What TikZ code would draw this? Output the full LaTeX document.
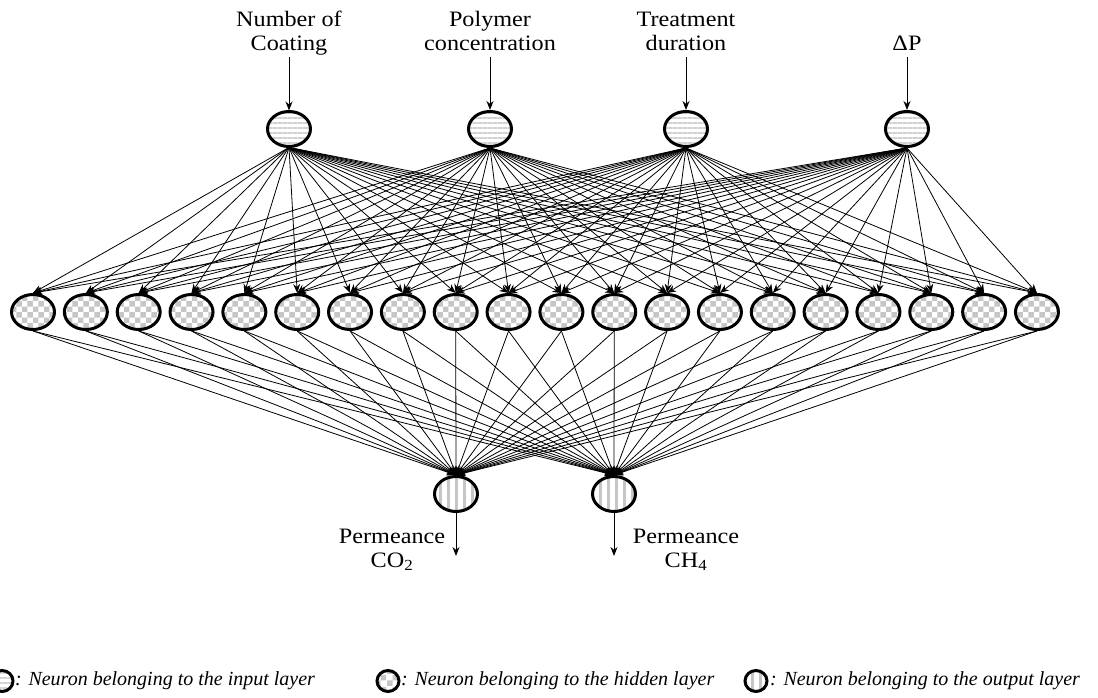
\documentclass[tikz,border=0pt]{standalone}
\usepackage{fontspec}
\setmainfont{Liberation Serif}
\newfontfamily\lblfont{Liberation Serif}[FakeStretch=1.1]
\usetikzlibrary{shapes.geometric,patterns,patterns.meta,arrows.meta}

\tikzset{
  neuron/.style={ellipse,draw,line width=3pt,minimum width=43pt,minimum height=35pt,inner sep=0pt},
  inneuron/.style={neuron,pattern={Lines[angle=0,distance=5pt,line width=2pt]},pattern color=gray!35},
  hidneuron/.style={neuron,pattern=checkerboard,pattern color=gray!45},
  outneuron/.style={neuron,pattern={Lines[angle=90,distance=8pt,line width=3pt]},pattern color=gray!45},
  keyneuron/.style={minimum width=22pt,minimum height=21pt},
  lbl/.style={align=center,inner sep=0pt,text depth=6pt,font=\lblfont\fontsize{22}{24}\selectfont},
  keytext/.style={anchor=west,inner sep=0pt,font=\itshape\fontsize{20}{24}\selectfont},
  link/.style={line width=0.8pt,-{Stealth[length=9pt,width=7pt]}},
  feed/.style={line width=1pt,-{Stealth[length=9pt,width=7pt]}}
}

\begin{document}
\begin{tikzpicture}[x=1pt,y=-1pt]
\useasboundingbox (0,0) rectangle (1098,698);
\node[inneuron] (I1) at (289,129) {};
\node[inneuron] (I2) at (490,129) {};
\node[inneuron] (I3) at (686,129) {};
\node[inneuron] (I4) at (907,129) {};
\node[lbl,anchor=south] (L1) at (289,57) {Number of\\Coating};
\node[lbl,anchor=south] (L2) at (490,57) {Polymer\\concentration};
\node[lbl,anchor=south] (L3) at (686,57) {Treatment\\duration};
\node[lbl,anchor=south] (L4) at (907,57) {ΔP};
\foreach \i in {1,...,20}
  \node[hidneuron] (H\i) at ({33+52.84*(\i-1)},312) {};
\node[outneuron] (O1) at (456,494) {};
\node[outneuron] (O2) at (614,494) {};
\coordinate (E1) at (456,556);
\coordinate (E2) at (614,556);
\node[lbl,anchor=south] (P1) at (392,574) {Permeance\\CO\textsubscript{2}};
\node[lbl,anchor=south] (P2) at (686,574) {Permeance\\CH\textsubscript{4}};
\foreach \j in {1,...,4}
  \draw[feed] (L\j) -- (I\j);
\foreach \j in {1,...,4}
  \foreach \i in {1,...,20}
    \draw[link] (I\j.south) -- (H\i.north);
\foreach \k in {1,2}
  \foreach \i in {1,...,20}
    \draw[link] (H\i.south) -- (O\k.north);
\draw[feed] (O1) -- (E1);
\draw[feed] (O2) -- (E2);
\node[inneuron,keyneuron] (K1) at (2,681) {};
\node[keytext] (T1) at (15,681) {: Neuron belonging to the input layer};
\node[hidneuron,keyneuron] (K2) at (388,681) {};
\node[keytext] (T2) at (401,681) {: Neuron belonging to the hidden layer};
\node[outneuron,keyneuron] (K3) at (756,681) {};
\node[keytext] (T3) at (770,681) {: Neuron belonging to the output layer};
\end{tikzpicture}
\end{document}
